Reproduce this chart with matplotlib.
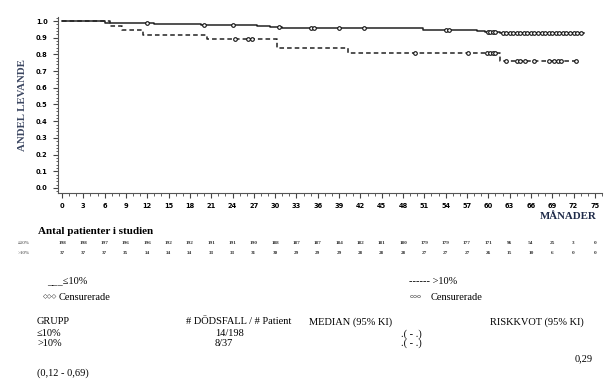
import numpy as np
import matplotlib
matplotlib.use("Agg")
import matplotlib.pyplot as plt
import matplotlib.transforms as mtransforms
from matplotlib.ticker import MultipleLocator

# Kaplan-Meier steps
low_times = [0, 6, 13, 19.5, 27.5, 29.3, 31, 50.8, 58.4, 59.5, 60.5, 61.7]
low_surv = [1.0, 0.99, 0.982, 0.975, 0.97, 0.964, 0.957, 0.948, 0.942, 0.937, 0.932, 0.927]
low_end = 73.4
low_cens = [12, 20, 24, 30.5, 35, 35.5, 39, 42.5, 54, 54.5, 60, 60.3, 60.6, 61,
            62, 62.5, 63, 63.5, 64, 64.5, 65, 65.5, 66, 66.5, 67, 67.5, 68,
            68.5, 69, 69.5, 70, 70.5, 71, 71.5, 72, 72.5, 73]

high_times = [0, 6.8, 8.4, 11.4, 20.4, 30.2, 40.3, 61.7]
high_surv = [1.0, 0.973, 0.946, 0.919, 0.892, 0.838, 0.811, 0.76]
high_end = 72.3
high_cens = [24.3, 26.2, 26.7, 49.7, 57.2, 59.8, 60.2, 60.6, 61, 62.5, 64, 64.5,
             65.2, 66.5, 68.5, 69.3, 69.8, 70.2, 72.3]

# numbers at risk every 3 months
risk_months = list(range(0, 76, 3))
risk_low = [198, 198, 197, 196, 196, 192, 192, 191, 191, 190, 188, 187, 187,
            184, 182, 181, 180, 179, 179, 177, 171, 96, 54, 25, 3, 0]
risk_high = [37, 37, 37, 35, 34, 34, 34, 33, 33, 31, 30, 29, 29, 29, 28, 28,
             28, 27, 27, 27, 26, 15, 10, 6, 0, 0]

serif = ['Liberation Serif', 'DejaVu Serif']
W, H = 616, 387

fig = plt.figure(figsize=(W / 100, H / 100), dpi=100)
ax = fig.add_axes([58 / W, 1 - 193 / H, 544 / W, 176 / H])


def surv_at(times, surv, t):
    i = np.searchsorted(times, t, side='right') - 1
    return np.array(surv)[i]


for times, surv, end, cens, ls in [
        (low_times, low_surv, low_end, low_cens, '-'),
        (high_times, high_surv, high_end, high_cens, (0, (3, 2)))]:
    xs = list(times) + [end]
    ys = list(surv) + [surv[-1]]
    ax.step(xs, ys, where='post', color='#222222', lw=1.1, ls=ls)
    ax.plot(cens, surv_at(times, surv, cens), 'o', ms=2.6, mfc='white',
            mec='#111111', mew=0.8, ls='none')

ax.set_xlim(-0.56, 76)
ax.set_ylim(-0.03, 1.024)
ax.set_xticks(risk_months)
ax.xaxis.set_minor_locator(MultipleLocator(1))
ax.set_yticks(np.arange(0, 1.01, 0.1))
ax.yaxis.set_minor_locator(MultipleLocator(0.02))
ax.set_yticklabels([f'{v:.1f}' for v in np.arange(0, 1.01, 0.1)])
for s in ['top', 'right']:
    ax.spines[s].set_visible(False)
for s in ['left', 'bottom']:
    ax.spines[s].set_color('#555555')
    ax.spines[s].set_linewidth(0.8)
ax.tick_params(which='major', length=3.5, width=0.8, color='#444444',
               labelsize=4.8, pad=4)
ax.tick_params(which='minor', length=1.8, width=0.6, color='#444444')
for lab in ax.get_xticklabels() + ax.get_yticklabels():
    lab.set_fontweight('bold')

fig.text(23 / W, 1 - 105 / H, 'ANDEL LEVANDE', rotation=90, ha='center',
         va='center', family=serif, fontweight='bold', fontsize=7.8,
         color='#3a4560')
fig.text(597 / W, 1 - 217 / H, 'MÅNADER', ha='right', va='center',
         family=serif, fontweight='bold', fontsize=7.8, color='#1e2a48')

fig.text(38 / W, 1 - 232 / H, 'Antal patienter i studien', ha='left',
         va='center', family=serif, fontweight='bold', fontsize=8)

tr = mtransforms.blended_transform_factory(ax.transData, fig.transFigure)
fig.text(18 / W, 1 - 243 / H, '≤10%', fontsize=3.6, family=serif,
         va='center', color='#333333')
fig.text(18 / W, 1 - 253 / H, '>10%', fontsize=3.6, family=serif,
         va='center', color='#333333')
for m, a, b in zip(risk_months, risk_low, risk_high):
    ax.text(m, 1 - 243 / H, str(a), transform=tr, ha='center', va='center',
            fontsize=3.8, family=serif, fontweight='bold', color='#333333')
    ax.text(m, 1 - 253 / H, str(b), transform=tr, ha='center', va='center',
            fontsize=3.8, family=serif, fontweight='bold', color='#333333')

fs = 7.5
fig.text(47 / W, 1 - 281 / H, '___≤10%', family=serif, fontsize=fs,
         va='center')
fig.text(43 / W, 1 - 297 / H, '◇◇◇', family=['DejaVu Sans'], fontsize=4.5,
         va='center')
fig.text(59 / W, 1 - 297 / H, 'Censurerade', family=serif, fontsize=fs,
         va='center')
fig.text(409 / W, 1 - 281 / H, '------ >10%', family=serif, fontsize=fs,
         va='center')
fig.text(410 / W, 1 - 297 / H, 'ooo', family=['DejaVu Sans'], fontsize=4.6,
         va='center', color='#333333')
fig.text(431 / W, 1 - 297 / H, 'Censurerade', family=serif, fontsize=fs,
         va='center')

fig.text(37 / W, 1 - 322 / H, 'GRUPP', family=serif, fontsize=fs, va='center')
fig.text(186 / W, 1 - 322 / H, '# DÖDSFALL / # Patient', family=serif,
         fontsize=fs, va='center')
fig.text(309 / W, 1 - 322 / H, 'MEDIAN (95% KI)', family=serif, fontsize=fs,
         va='center')
fig.text(490 / W, 1 - 322 / H, 'RISKKVOT (95% KI)', family=serif,
         fontsize=fs, va='center')
fig.text(37 / W, 1 - 334 / H, '≤10%', family=serif, fontsize=fs, va='center')
fig.text(37 / W, 1 - 343 / H, '>10%', family=serif, fontsize=fs, va='center')
fig.text(215 / W, 1 - 334 / H, '14/198', family=serif, fontsize=fs,
         va='center')
fig.text(215 / W, 1 - 343 / H, '8/37', family=serif, fontsize=fs, va='center')
fig.text(401 / W, 1 - 334 / H, '.( - .)', family=serif, fontsize=fs,
         va='center')
fig.text(401 / W, 1 - 343 / H, '.( - .)', family=serif, fontsize=fs,
         va='center')
fig.text(593 / W, 1 - 359 / H, '0,29', family=serif, fontsize=fs,
         ha='right', va='center')
fig.text(37 / W, 1 - 373 / H, '(0,12 - 0,69)', family=serif, fontsize=fs,
         va='center')

fig.savefig('out.png', dpi=100)
